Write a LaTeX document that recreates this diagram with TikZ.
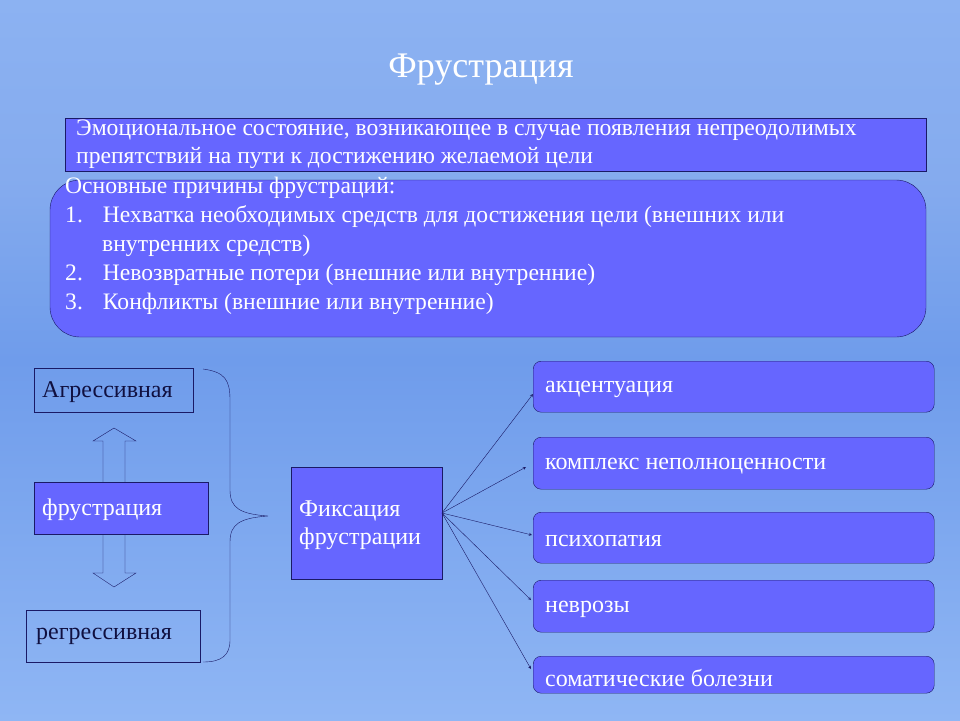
\documentclass[tikz,border=0pt]{standalone}
\usepackage{fontspec}
\setmainfont{Liberation Serif}
\definecolor{boxc}{HTML}{6666FF}
\definecolor{edge}{HTML}{1A1A66}
\definecolor{txt}{HTML}{101040}
\definecolor{bgtop}{HTML}{8CB2F2}
\definecolor{bgmid}{HTML}{6F9CEB}
\definecolor{bgbot}{HTML}{8FB6F4}
\tikzset{
 fbox/.style={draw=edge,fill=boxc,text=white,inner sep=0pt},
 obox/.style={draw=edge,text=txt,inner sep=0pt},
 rbox/.style={draw=edge,fill=boxc,text=white,rounded corners=8pt},
 con/.style={draw=edge,-stealth,thin},
 hollow/.style={draw=edge,thin}
}
\begin{document}
\begin{tikzpicture}[x=1pt,y=-1pt,font=\fontsize{24}{28}\selectfont]
\useasboundingbox (0,0) rectangle (960,720);
\shade[top color=bgtop,bottom color=bgmid,middle color=bgmid!85!white] (0,0) rectangle (960,360);
\shade[top color=bgmid,bottom color=bgbot] (0,360) rectangle (960,720);
\node[text=white,font=\fontsize{36}{40}\selectfont] (title) at (481,70) {Фрустрация};
\draw[fbox] (65,118) rectangle (926,171);
\node[anchor=north west,text=white,align=left,inner sep=0pt,font=\fontsize{23.6}{28}\selectfont] (def) at (76,120) {Эмоциональное состояние, возникающее в случае появления непреодолимых\\препятствий на пути к достижению желаемой цели};
\draw[rbox,rounded corners=30pt] (50,180) rectangle (926,337);
\node[anchor=north west,text=white,align=left,inner sep=0pt,font=\fontsize{23.6}{26}\selectfont] (causes) at (65,177) {Основные причины фрустраций:\\[3pt]
1.\hspace{20pt}Нехватка необходимых средств для достижения цели (внешних или\\[3pt]
\hspace{37pt}внутренних средств)\\[3pt]
2.\hspace{20pt}Невозвратные потери (внешние или внутренние)\\[3pt]
3.\hspace{20pt}Конфликты (внешние или внутренние)};
\node[obox,minimum width=159pt,minimum height=44pt,anchor=north west] (agr) at (34,368) {};
\node[anchor=west,text=txt,inner sep=0pt] at ([xshift=8pt,yshift=-2pt]agr.west) {Агрессивная};
\node[fbox,minimum width=174pt,minimum height=52pt,anchor=north west] (fr) at (34,482) {};
\node[anchor=west,text=white,inner sep=0pt] at ([xshift=8pt,yshift=-2pt]fr.west) {фрустрация};
\node[obox,minimum width=174pt,minimum height=52pt,anchor=north west] (reg) at (26,610) {};
\node[anchor=west,text=txt,inner sep=0pt] at ([xshift=10pt]reg.west) {регрессивная};
\draw[hollow] (103,482) -- (103,441) -- (93,441) -- (114,428) -- (136,441) -- (125,441) -- (125,482);
\draw[hollow] (103,534) -- (103,573) -- (93,573) -- (114,587) -- (136,573) -- (125,573) -- (125,534);
\draw[edge,thin] (203,369) .. controls (225,372) and (230,380) .. (230,400) -- (230,490) .. controls (230,508) and (240,514) .. (268,516) .. controls (240,518) and (230,524) .. (230,542) -- (230,640) .. controls (230,655) and (222,662) .. (203,662);
\node[fbox,minimum width=151pt,minimum height=112pt,anchor=north west] (fix) at (291,467) {};
\node[anchor=west,text=white,align=left,inner sep=0pt] at ([xshift=8pt,yshift=-2pt]fix.west) {Фиксация\\фрустрации};
\foreach \n/\y/\h/\t in {a/361/51/акцентуация,b/437/52/комплекс неполноценности,c/512/51/психопатия,d/580/52/неврозы,e/656/37/соматические болезни}{
 \node[rbox,minimum width=401pt,minimum height=\h pt,anchor=north west,inner sep=0pt] (\n) at (533,\y) {};
 \node[anchor=west,text=white,inner sep=0pt] at ([xshift=12pt,yshift=-3pt]\n.west) {\t};
}
\coordinate (o) at (442,513);
\coordinate (ta) at (533,394);
\coordinate (tb) at (526,467);
\coordinate (tc) at (532,535);
\coordinate (td) at (531,600);
\coordinate (te) at (531,669);
\foreach \t in {ta,tb,tc,td,te} \draw[con] (o) -- (\t);
\end{tikzpicture}
\end{document}
